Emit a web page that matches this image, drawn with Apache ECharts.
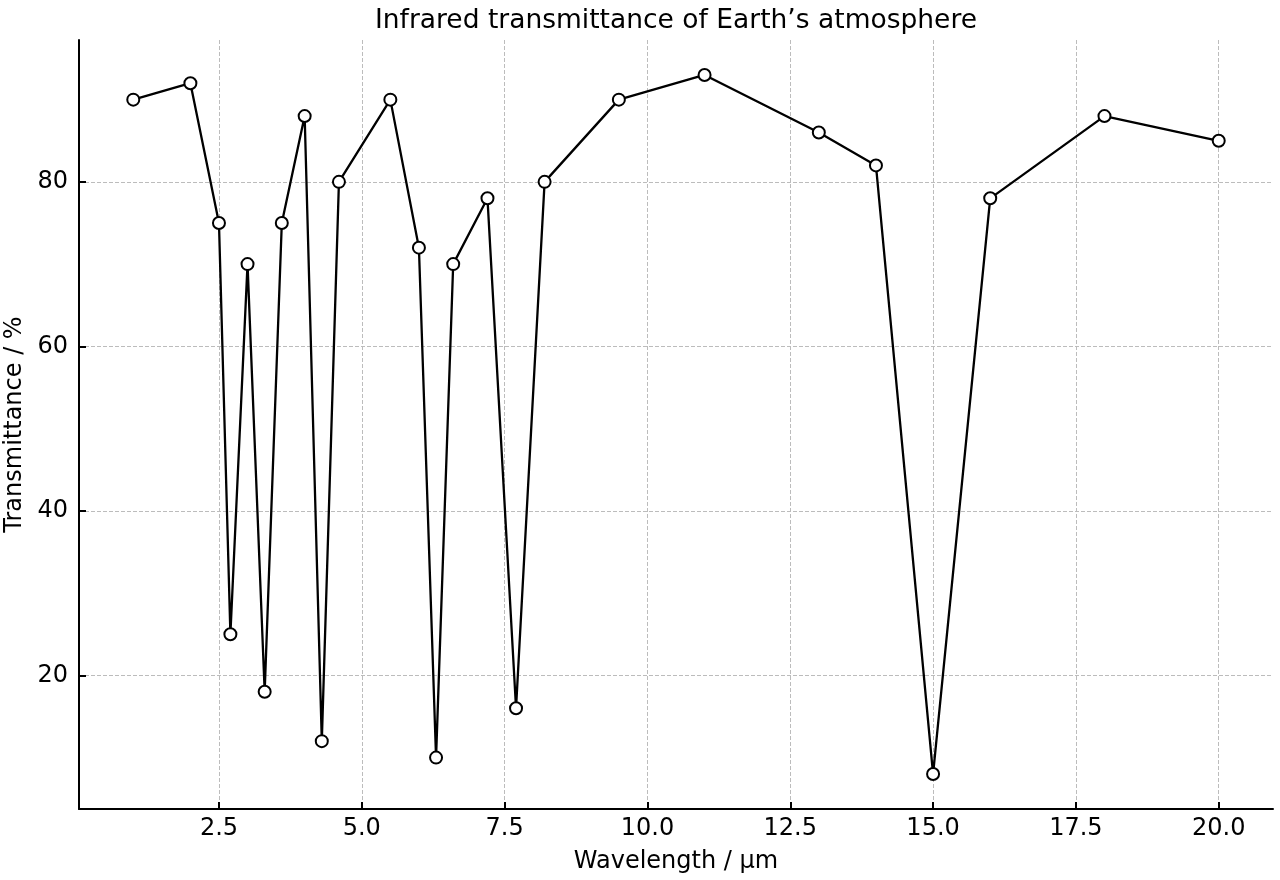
<!DOCTYPE html>
<html>
<head>
<meta charset="utf-8">
<script src="https://cdn.jsdelivr.net/npm/echarts@6/dist/echarts.min.js"></script>
<style>
  html, body { margin:0; padding:0; background:#fff; }
  #chart { width:1280px; height:880px; }
</style>
</head>
<body>
<div id="chart"></div>
<script>
// wavelength in µm
const wavelength = [1, 2, 2.5, 2.7, 3.0, 3.3, 3.6, 4.0, 4.3, 4.6, 5.5, 6.0, 6.3, 6.6, 7.2, 7.7, 8.2, 9.5, 11, 13, 14, 15, 16, 18, 20];
// transmittance in %
const transmittance = [90, 92, 75, 25, 70, 18, 75, 88, 12, 80, 90, 72, 10, 70, 78, 16, 80, 90, 93, 86, 82, 8, 78, 88, 85];
const xTicks = [2.5, 5.0, 7.5, 10.0, 12.5, 15.0, 17.5, 20.0];
const yTicks = [20, 40, 60, 80];

const font = 'DejaVu Sans';
const chart = echarts.init(document.getElementById('chart'));

const axisCommon = {
  axisLine: { show: true, onZero: false, lineStyle: { color: '#000', width: 2 } },
  axisTick: { show: true, inside: true, length: 7, lineStyle: { color: '#000', width: 2 } },
  splitLine: { show: true, lineStyle: { color: '#bcbcbc', width: 1, type: [4, 2] } },
  nameLocation: 'middle',
  nameTextStyle: { fontFamily: font, fontSize: 24, color: '#000' }
};

let option = {
  animation: false,
  backgroundColor: '#fff',
  title: {
    text: 'Infrared transmittance of Earth\u2019s atmosphere',
    left: 671,
    textAlign: 'center',
    top: 3,
    textStyle: { fontFamily: font, fontSize: 26.5, fontWeight: 'normal', color: '#000' }
  },
  grid: { left: 79, right: 7, top: 40, bottom: 71, outerBoundsMode: 'none', containLabel: false },
  xAxis: Object.assign({}, axisCommon, {
    type: 'value',
    min: 0.05,
    max: 20.95,
    name: 'Wavelength / \u03bcm',
    nameGap: 41,
    axisTick: Object.assign({}, axisCommon.axisTick, { customValues: xTicks }),
    axisLabel: {
      customValues: xTicks,
      fontFamily: font, fontSize: 24, color: '#000', margin: 8,
      formatter: v => v.toFixed(1)
    }
  }),
  yAxis: Object.assign({}, axisCommon, {
    type: 'value',
    min: 3.75,
    max: 97.25,
    name: 'Transmittance / %',
    nameGap: 46,
    axisTick: Object.assign({}, axisCommon.axisTick, { customValues: yTicks }),
    axisLabel: {
      customValues: yTicks,
      fontFamily: font, fontSize: 24, color: '#000', margin: 11
    }
  }),
  series: [{
    type: 'line',
    data: wavelength.map((w, i) => [w, transmittance[i]]),
    symbol: 'circle',
    symbolSize: 12,
    showAllSymbol: true,
    lineStyle: { color: '#000', width: 2.3 },
    itemStyle: { color: '#fff', borderColor: '#000', borderWidth: 2 },
    z: 3
  }]
};
chart.setOption(option);
</script>
</body>
</html>
